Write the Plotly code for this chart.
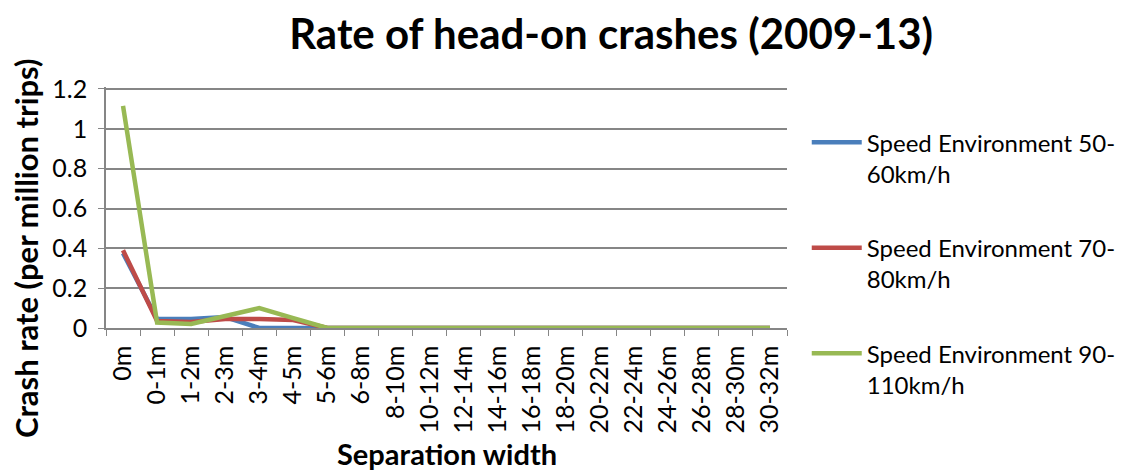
import plotly.graph_objects as go

categories = ["0m", "0-1m", "1-2m", "2-3m", "3-4m", "4-5m", "5-6m", "6-8m", "8-10m",
              "10-12m", "12-14m", "14-16m", "16-18m", "18-20m", "20-22m", "22-24m",
              "24-26m", "26-28m", "28-30m", "30-32m"]
speed_50_60 = [0.375, 0.045, 0.045, 0.055, 0.0, 0.0, 0.0, 0, 0, 0, 0, 0, 0, 0, 0, 0, 0, 0, 0, 0]
speed_70_80 = [0.39, 0.035, 0.03, 0.045, 0.045, 0.04, 0.0, 0, 0, 0, 0, 0, 0, 0, 0, 0, 0, 0, 0, 0]
speed_90_110 = [1.115, 0.027, 0.02, 0.06, 0.1, 0.05, 0.0, 0, 0, 0, 0, 0, 0, 0, 0, 0, 0, 0, 0, 0]
series_names = ["Speed Environment 50-<br>60km/h", "Speed Environment 70-<br>80km/h",
                "Speed Environment 90-<br>110km/h"]
colors = ["#4A7EBB", "#BE4B48", "#98B954"]
y_ticks = [0, 0.2, 0.4, 0.6, 0.8, 1, 1.2]
y_labels = ["0", "0.2", "0.4", "0.6", "0.8", "1", "1.2"]

font = "Lato, Open Sans, sans-serif"
grid_col = "#868686"
fig = go.Figure()
for i, (name, vals) in enumerate(zip(series_names, [speed_50_60, speed_70_80, speed_90_110])):
    fig.add_trace(go.Scatter(x=categories, y=vals, mode="lines", name=name,
                             legendgroup=str(i),
                             line=dict(color=colors[i], width=4.5)))

# top gridline (plotly drops gridlines lying at the very edge of the range)
fig.add_shape(type="line", xref="paper", yref="y", x0=0, x1=1, y0=y_ticks[-1], y1=y_ticks[-1],
              line=dict(color=grid_col, width=1.5), layer="below")

fig.update_layout(
    width=1138, height=474,
    margin=dict(l=98, r=359, t=79, b=154),
    paper_bgcolor="white", plot_bgcolor="white",
    title=dict(text="<b>Rate of head-on crashes (2009-13)</b>", x=0.53, xanchor="center",
               y=0.944, yanchor="middle", font=dict(family=font, size=42, color="black")),
    legend=dict(x=1.029, xanchor="left", y=0.862, yanchor="top", valign="top",
                font=dict(family=font, size=24, color="black"), maxheight=460,
                tracegroupgap=40, itemwidth=50, bgcolor="rgba(0,0,0,0)"),
    font=dict(family=font, color="black"),
    annotations=[
        dict(text="<b>Crash rate (per million trips)</b>", textangle=-90,
             xref="paper", yref="paper", x=-0.1175, y=0.332, xanchor="center",
             yanchor="middle", showarrow=False, font=dict(family=font, size=31, color="black")),
        dict(text="<b>Separation width</b>",
             xref="paper", yref="paper", x=0.5, y=-0.522, xanchor="center",
             yanchor="middle", showarrow=False, font=dict(family=font, size=29, color="black")),
    ],
)
fig.update_xaxes(type="category", range=[-0.5, len(categories) - 0.5], automargin=False,
                 tickson="boundaries", ticks="outside", ticklen=6, ticklabelstandoff=6,
                 tickcolor=grid_col, showline=True, linecolor=grid_col, linewidth=1.5,
                 tickangle=-90, tickfont=dict(family=font, size=25, color="black"),
                 showgrid=False)
fig.update_yaxes(range=[0, 1.21], tickvals=y_ticks, ticktext=y_labels, automargin=False,
                 ticks="outside", ticklen=6, tickcolor=grid_col, ticklabelstandoff=6,
                 showline=True, linecolor=grid_col, linewidth=1.5,
                 showgrid=True, gridcolor=grid_col, gridwidth=1.5, zeroline=False,
                 tickfont=dict(family=font, size=25, color="black"))
fig.write_html("out.html")
